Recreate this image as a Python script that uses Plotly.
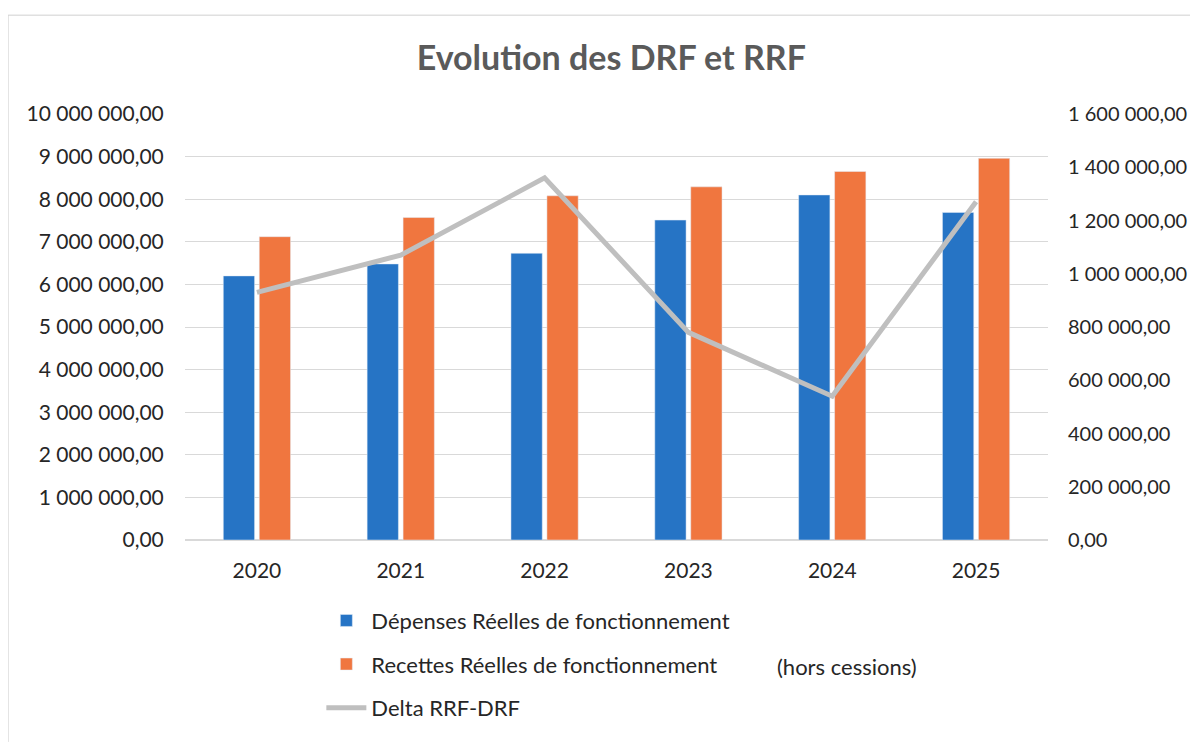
import plotly.graph_objects as go

annees = ["2020", "2021", "2022", "2023", "2024", "2025"]
drf = [6200000, 6480000, 6730000, 7510000, 8100000, 7690000]
rrf = [7120000, 7570000, 8080000, 8290000, 8650000, 8960000]
delta = [930000, 1070000, 1360000, 780000, 540000, 1270000]

police = "Lato, 'Open Sans', sans-serif"
texte = "#262626"

fig = go.Figure()
fig.add_trace(go.Bar(x=annees, y=drf, name="Dépenses Réelles de fonctionnement",
                     marker_color="#2674C5", legendgroup="a"))
fig.add_trace(go.Bar(x=annees, y=rrf, name="Recettes Réelles de fonctionnement",
                     marker_color="#F0763F", legendgroup="b"))
fig.add_trace(go.Scatter(x=annees, y=delta, name="Delta RRF-DRF", mode="lines",
                         line=dict(color="#BFBFBF", width=5), yaxis="y2", legendgroup="c"))

# page body adds an 8px margin, so the figure is a bit smaller than the window
fig.update_layout(
    width=1190, height=734,
    paper_bgcolor="white", plot_bgcolor="white",
    separators=", ",
    font=dict(family=police, size=21, color=texte),
    title=dict(text="<b>Evolution des DRF et RRF</b>", x=0.507, xanchor="center",
               y=0.932, yanchor="middle", font=dict(size=34, color="#5A5A5A")),
    margin=dict(l=177, r=150, t=106, b=202, autoexpand=False),
    barmode="group", bargap=0.5, bargroupgap=0.13,
    xaxis=dict(showgrid=False, showline=False, ticks="outside", ticklen=12,
               tickcolor="rgba(0,0,0,0)", tickfont=dict(size=21, color=texte)),
    yaxis=dict(range=[0, 10000000], dtick=1000000, tickformat=",.2f",
               gridcolor="#D9D9D9", gridwidth=1, zeroline=True, zerolinecolor="#D9D9D9",
               ticks="outside", ticklen=16, tickcolor="rgba(0,0,0,0)",
               tickfont=dict(size=21, color=texte)),
    yaxis2=dict(range=[0, 1600000], dtick=200000, tickformat=",.2f", overlaying="y",
                side="right", showgrid=False, zeroline=False,
                ticks="outside", ticklen=15, tickcolor="rgba(0,0,0,0)",
                tickfont=dict(size=20, color=texte)),
    legend=dict(orientation="v", x=0.158, xanchor="left", y=-0.14, yanchor="top",
                tracegroupgap=12, font=dict(size=22, color=texte), itemwidth=40),
    shapes=[
        dict(type="line", xref="paper", yref="paper", x0=-0.205, x1=1.174,
             y0=1.232, y1=1.232, line=dict(color="#D0D0D0", width=1)),
        dict(type="line", xref="paper", yref="paper", x0=-0.205, x1=-0.205,
             y0=-0.474, y1=1.232, line=dict(color="#D0D0D0", width=1)),
    ],
    annotations=[dict(text="(hors cessions)", xref="paper", yref="paper",
                      x=0.684, y=-0.296, xanchor="left", yanchor="middle",
                      showarrow=False, font=dict(size=22, color=texte))],
)

fig.write_html("out.html")
